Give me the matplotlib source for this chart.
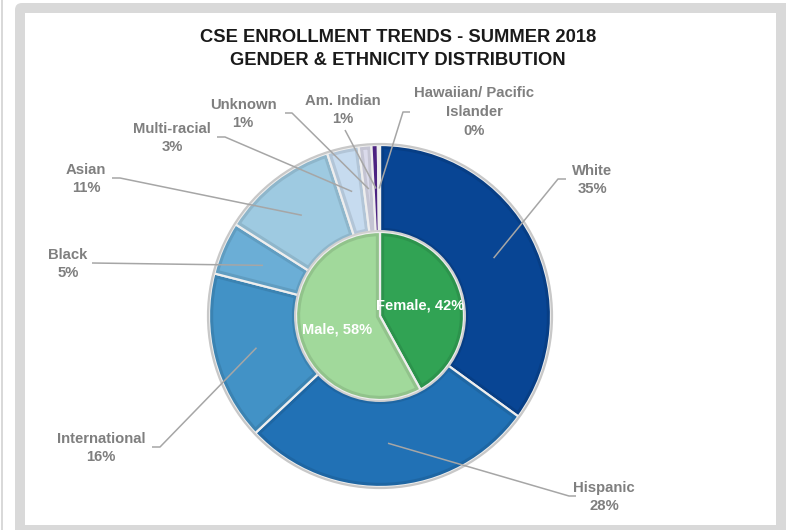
import numpy as np
import matplotlib.pyplot as plt
import matplotlib.colors as mcolors
from matplotlib.patches import Wedge, Circle, Rectangle, FancyBboxPatch

# data
groups = ['White', 'Hispanic', 'International', 'Black', 'Asian',
          'Multi-racial', 'Unknown', 'Am. Indian', 'Hawaiian/ Pacific\nIslander']
shares = [35, 28, 16, 5, 11, 3, 1.2, 0.6, 0.2]
group_colors = ['#084594', '#2171b5', '#4292c6', '#6baed6', '#9ecae1',
                '#c6dbef', '#dadaeb', '#54278f', '#d9d9d9']

genders = ['Female', 'Male']
gender_shares = [42, 58]
gender_colors = ['#31a354', '#a1d99b']

title = 'CSE ENROLLMENT TRENDS - SUMMER 2018\nGENDER & ETHNICITY DISTRIBUTION'

W, H = 786, 530
FONT = ['Liberation Sans', 'DejaVu Sans']
GRAY = '#7f7f7f'

fig = plt.figure(figsize=(W / 100, H / 100), dpi=100)
ax = fig.add_axes([0, 0, 1, 1])

# frame (pixel coordinates, y up)
ax.add_patch(Rectangle((0.5, -5), 2.5, H + 10, fc='#d9d9d9', ec='none'))
ax.add_patch(FancyBboxPatch((15, -20), W + 20, H - 3 + 20,
                            boxstyle='round,pad=0,rounding_size=7',
                            fc='#d9d9d9', ec='none'))
ax.add_patch(Rectangle((25, H - 525), 776 - 25, 525 - 13, fc='white', ec='none'))

cx, cy = 380, H - 316
r_out, r_in = 171, 84

outer, _ = ax.pie(shares, colors=group_colors, radius=r_out, center=(cx, cy),
                  startangle=90, counterclock=False,
                  wedgeprops=dict(width=r_out - r_in, edgecolor='none'))
inner, _ = ax.pie(gender_shares, colors=gender_colors, radius=r_in, center=(cx, cy),
                  startangle=90, counterclock=False,
                  wedgeprops=dict(edgecolor='none'))

# bevel look: darker inner rim + light separators
for w, c in list(zip(outer, group_colors)) + list(zip(inner, gender_colors)):
    dark = tuple(np.array(mcolors.to_rgb(c)) * 0.9)
    rim = Wedge(w.center, w.r, w.theta1, w.theta2, width=w.width,
                fill=False, ec=dark, lw=6)
    ax.add_patch(rim)
    rim.set_clip_path(w)
    ax.add_patch(Wedge(w.center, w.r, w.theta1, w.theta2, width=w.width,
                       fill=False, ec='#eeeeee', lw=1.6))

ax.add_patch(Circle((cx, cy), r_out + 1, fill=False, ec='#c8c8c8', lw=1.6))
ax.add_patch(Circle((cx, cy), r_in + 1, fill=False, ec='#d0d0d0', lw=1.4))

# label layout: text centre and leader points (image pixels, y down)
layout = {
    'White': ((592, 180), [(558, 179), (566, 179)]),
    'Hispanic': ((604, 497), [(569, 496), (576, 496)]),
    'International': ((101, 448), [(160, 447), (152, 447)]),
    'Black': ((68, 264), [(92, 263)]),
    'Asian': ((86, 179), [(120, 178), (112, 178)]),
    'Multi-racial': ((172, 138), [(225, 137), (217, 137)]),
    'Unknown': ((243, 114), [(292, 113), (285, 113)]),
    'Am. Indian': ((343, 110), [(345, 130)]),
    'Hawaiian/ Pacific\nIslander': ((474, 112), [(403, 112), (410, 112)]),
}

r_mid = (r_out + r_in) / 2
for w, name, v in zip(outer, groups, shares):
    ang = np.deg2rad((w.theta1 + w.theta2) / 2)
    ax0, ay0 = cx + r_mid * np.cos(ang), cy + r_mid * np.sin(ang)
    (tx, ty), pts = layout[name]
    xs = [ax0] + [p[0] for p in pts]
    ys = [ay0] + [H - p[1] for p in pts]
    ax.plot(xs, ys, color='#a6a6a6', lw=1.1, solid_capstyle='butt', zorder=5)
    ax.text(tx, H - ty, f'{name}\n{v:.0f}%', ha='center', va='center',
            fontsize=10.7, fontweight='bold', color=GRAY, family=FONT,
            linespacing=1.45, zorder=6)

gender_pos = [(420, 306), (337, 329)]
for (tx, ty), name, v in zip(gender_pos, genders, gender_shares):
    ax.text(tx, H - ty, f'{name}, {v}%', ha='center', va='center',
            fontsize=10.5, fontweight='bold', color='white', family=FONT, zorder=6)

ax.text(398, H - 49, title, ha='center', va='center', fontsize=13.2,
        fontweight='bold', color='#1a1a1a', family=FONT, linespacing=1.45)

ax.set_xlim(0, W)
ax.set_ylim(0, H)
ax.set_aspect('equal')
ax.axis('off')

fig.savefig('out.png', dpi=100)
